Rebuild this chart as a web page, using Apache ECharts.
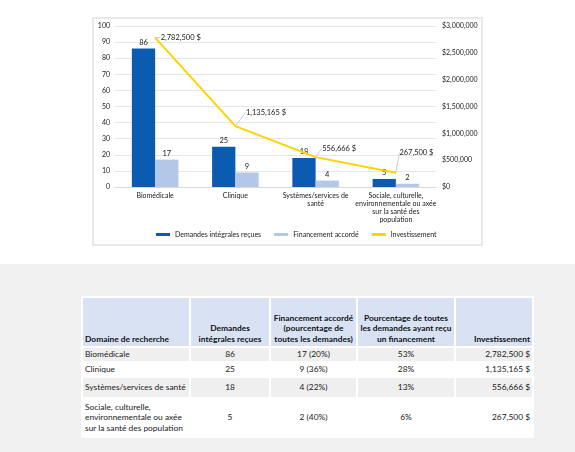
<!DOCTYPE html>
<html>
<head>
<meta charset="utf-8">
<script src="https://cdn.jsdelivr.net/npm/echarts@6/dist/echarts.min.js"></script>
<style>
html, body { margin: 0; padding: 0; width: 575px; height: 452px; overflow: hidden; background: #fff; font-family: Lato, sans-serif; }
#chart { position: absolute; left: 0; top: 0; width: 575px; height: 264px; }
#band { position: absolute; left: 0; top: 264px; width: 575px; height: 188px; background: #f0f0f0; }
table { position: absolute; left: 81px; top: 296px; width: 453px; table-layout: fixed; border-collapse: separate; border-spacing: 2px; background: #fff; font-size: 8.4px; line-height: 10.5px; color: #1a1a1a; }
td, th { padding: 0 2px; }
th { background: #d9e2f3; font-weight: bold; vertical-align: bottom; padding-bottom: 2px; height: 46px; white-space: nowrap; color: #111; }
td { vertical-align: middle; }
td.c, td.r { white-space: nowrap; }
tr.g td { background: #efefef; }
.l { text-align: left; }
.c { text-align: center; }
.r { text-align: right; }
</style>
</head>
<body>
<div id="chart"></div>
<div id="band"></div>
<table id="tbl">
  <colgroup>
    <col style="width:106px"><col style="width:78px"><col style="width:85px"><col style="width:96px"><col style="width:76px">
  </colgroup>
  <thead></thead>
  <tbody></tbody>
</table>
<script>
// data
const categories = ['Biomédicale', 'Clinique', 'Systèmes/services de santé', 'Sociale, culturelle, environnementale ou axée sur la santé des population']
const chartLabels = ['Biomédicale', 'Clinique', 'Systèmes/services de\nsanté', 'Sociale, culturelle,\nenvironnementale ou axée\nsur la santé des\npopulation']
const demandes = [86, 25, 18, 5]
const financement = [17, 9, 4, 2]
const financementPct = [20, 36, 22, 40]
const partPct = [53, 28, 13, 6]
const investissement = [2782500, 1135165, 556666, 267500]
const seriesNames = ['Demandes intégrales reçues', 'Financement accordé', 'Investissement']
const tableHeaders = ['Domaine de recherche', 'Demandes<br>intégrales reçues', 'Financement accordé<br>(pourcentage de<br>toutes les demandes)', 'Pourcentage de toutes<br>les demandes ayant reçu<br>un financement', 'Investissement']

const money = v => v.toLocaleString('en-US') + ' $'

const chart = echarts.init(document.getElementById('chart'))

// leader-line offsets for the investment labels
const labelShift = [[0, 0], [5, -14], [1, -9], [-2, -20]]
const txt = '#1a1a1a'

chart.setOption({
    animation: false,
    textStyle: { fontFamily: 'Lato' },
    graphic: [{
        type: 'rect',
        shape: { x: 93, y: 18, width: 389, height: 227 },
        style: { fill: 'none', stroke: '#e8e8e8', lineWidth: 2 },
        silent: true,
    }],
    grid: { left: 115, right: 139, top: 26, bottom: 77, containLabel: false, outerBoundsMode: 'none' },
    legend: {
        left: 156, top: 231, padding: 0,
        itemWidth: 14, itemHeight: 3, itemGap: 13,
        textStyle: { fontSize: 7, color: txt, fontFamily: 'Lato' },
        data: seriesNames.map(n => ({ name: n, icon: 'rect' })),
    },
    xAxis: {
        type: 'category',
        data: chartLabels,
        axisLine: { lineStyle: { color: '#d9d9d9' } },
        axisTick: { show: false },
        axisLabel: { fontSize: 7, color: txt, lineHeight: 8, margin: 5, interval: 0 },
    },
    yAxis: [{
        type: 'value', min: 0, max: 100, interval: 10,
        axisLine: { show: false }, axisTick: { show: false },
        axisLabel: { fontSize: 7, color: txt, margin: 5 },
        splitLine: { lineStyle: { color: '#e6e6e6' } },
    }, {
        type: 'value', min: 0, max: 3000000, interval: 500000,
        axisLine: { show: false }, axisTick: { show: false },
        axisLabel: { fontSize: 7, color: txt, margin: 6, formatter: v => '$' + v.toLocaleString('en-US') },
        splitLine: { show: false },
    }],
    series: [{
        name: seriesNames[0], type: 'bar', data: demandes,
        barGap: 0, barCategoryGap: '42%',
        itemStyle: { color: '#0b5cb0' },
        label: { show: true, position: 'top', distance: 2, fontSize: 7.5, color: txt },
    }, {
        name: seriesNames[1], type: 'bar', data: financement,
        itemStyle: { color: '#b4c7e7' },
        label: { show: true, position: 'top', distance: 2, fontSize: 7.5, color: txt },
    }, {
        name: seriesNames[2], type: 'line', yAxisIndex: 1, data: investissement,
        symbol: 'circle', symbolSize: 1,
        itemStyle: { color: '#ffd200' },
        lineStyle: { color: '#ffd200', width: 2 },
        z: 5,
        label: { show: true, position: 'right', distance: 5, fontSize: 7.5, color: txt, formatter: p => money(p.value) },
        labelLine: { show: true, lineStyle: { color: '#bfbfbf', width: 0.8 } },
        labelLayout: p => ({ dx: labelShift[p.dataIndex][0], dy: labelShift[p.dataIndex][1] }),
    }],
})

// table
const thead = document.querySelector('#tbl thead')
const tbody = document.querySelector('#tbl tbody')
const align = ['l', 'c', 'c', 'c', 'r']
thead.innerHTML = '<tr>' + tableHeaders.map((h, i) => `<th class="${align[i]}">${h}</th>`).join('') + '</tr>'
const rowHeights = [13, 13, 19, 37]
tbody.innerHTML = categories.map((c, i) => {
    const cells = [c, demandes[i], `${financement[i]} (${financementPct[i]}%)`, partPct[i] + '%', money(investissement[i])]
    return `<tr class="${i % 2 === 0 ? 'g' : ''}" style="height:${rowHeights[i]}px">` +
        cells.map((v, j) => `<td class="${align[j]}">${v}</td>`).join('') + '</tr>'
}).join('')
</script>
</body>
</html>
